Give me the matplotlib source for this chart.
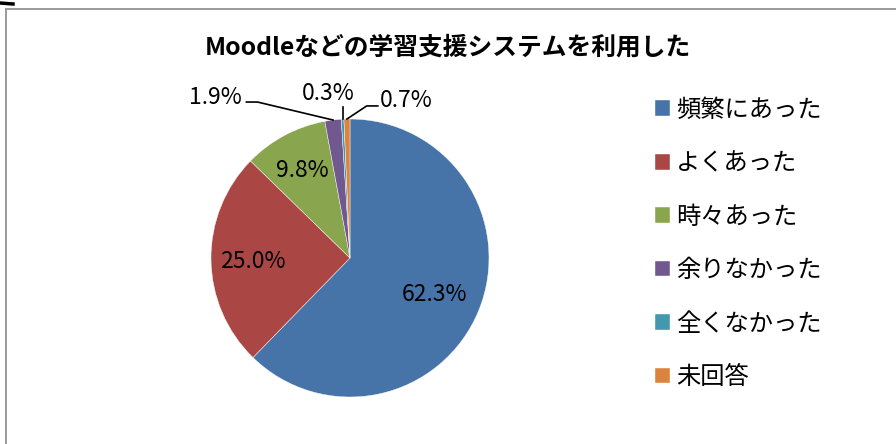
import matplotlib.pyplot as plt
from matplotlib.lines import Line2D
import numpy as np

plt.rcParams['font.family'] = ['Noto Sans CJK JP', 'DejaVu Sans']

# data
title = "Moodleなどの学習支援システムを利用した"
categories = ["頻繁にあった", "よくあった", "時々あった", "余りなかった", "全くなかった", "未回答"]
shares = [62.3, 25.0, 9.8, 1.9, 0.3, 0.7]
colors = ["#4674A8", "#AA4744", "#89A54E", "#71588F", "#4198AF", "#DB843D"]

W, H = 896, 444
fig = plt.figure(figsize=(W / 100, H / 100), dpi=100)

# chart frame (only top and left edges are visible in the crop)
fig.add_artist(Line2D([5.5 / W, 1.0], [1 - 9.5 / H, 1 - 9.5 / H], color="#9a9a9a", lw=1.4))
fig.add_artist(Line2D([5.5 / W, 5.5 / W], [1 - 9.5 / H, 0.0], color="#9a9a9a", lw=1.4))
fig.add_artist(Line2D([0.0, 13 / W], [1 - 3 / H, 1 - 4 / H], color="black", lw=2.5))

fig.text(448 / W, 1 - 48 / H, title, ha="center", va="center",
         fontsize=17.8, fontweight="bold")

# pie axes: centre (350, 258) px, radius 139 px
cx, cy, r = 350, 258, 139
ax = fig.add_axes([(cx - r) / W, (H - cy - r) / H, 2 * r / W, 2 * r / H])
wedges, _ = ax.pie(shares, colors=colors, startangle=90, counterclock=False,
                   radius=1.0, wedgeprops=dict(edgecolor="white", linewidth=0.3))
ax.set_xlim(-1, 1)
ax.set_ylim(-1, 1)
ax.set_aspect("equal")
ax.axis("off")

# inside labels for the big slices
inside = {0: 0.66, 1: 0.70, 2: 0.73}
for i, dist in inside.items():
    w = wedges[i]
    ang = np.deg2rad((w.theta1 + w.theta2) / 2)
    ax.text(dist * np.cos(ang), dist * np.sin(ang) - 0.015, f"{shares[i]:.1f}%",
            ha="center", va="center", fontsize=16.5)

# outside labels with leader lines for the thin slices
outside = {3: (-0.78, 1.158, "right"), 4: (-0.16, 1.187, "center"), 5: (0.216, 1.13, "left")}
for i, (tx, ty, ha) in outside.items():
    w = wedges[i]
    ang = np.deg2rad((w.theta1 + w.theta2) / 2)
    px, py = np.cos(ang), np.sin(ang)
    ax.text(tx, ty, f"{shares[i]:.1f}%", ha=ha, va="center", fontsize=16.5)
    if i == 3:
        ax.plot([tx + 0.035, tx + 0.115, px], [1.122, 1.122, py],
                color="black", lw=1.2, clip_on=False)
    elif i == 4:
        ax.plot([px, px], [1.086, py], color="black", lw=1.2, clip_on=False)
    else:
        ax.plot([tx - 0.016, tx - 0.096, px], [1.094, 1.094, py],
                color="black", lw=1.2, clip_on=False)

leg = fig.legend(wedges, categories, loc="upper left",
                 bbox_to_anchor=(645 / W, 1 - 87 / H), frameon=False,
                 fontsize=17.5, handlelength=0.62, handleheight=0.62,
                 handletextpad=0.25, labelspacing=1.13, borderaxespad=0)

fig.savefig("out.png", dpi=100)
